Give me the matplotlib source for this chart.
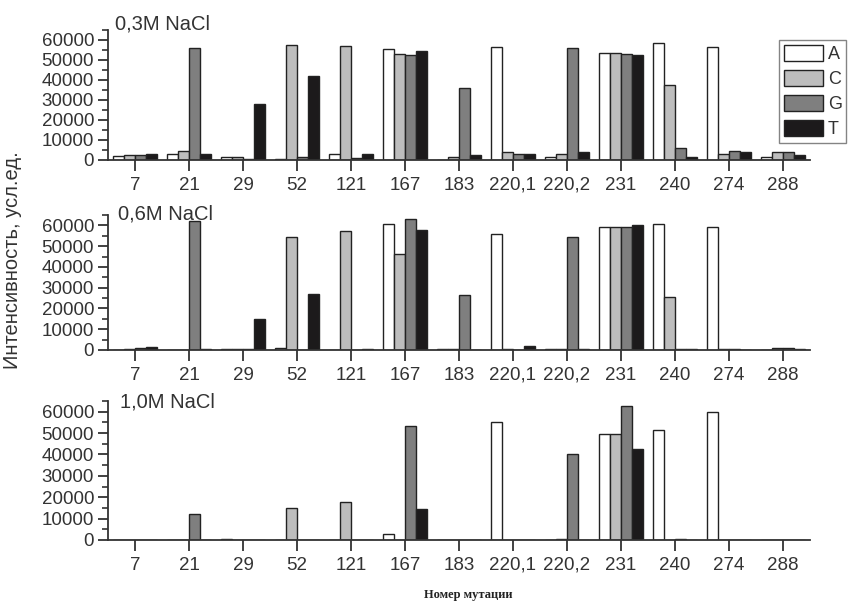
import matplotlib
matplotlib.use("Agg")
import matplotlib.pyplot as plt
import numpy as np
from matplotlib.ticker import MultipleLocator

plt.rcParams['font.family'] = ['Liberation Sans', 'DejaVu Sans']

categories = ['7', '21', '29', '52', '121', '167', '183', '220,1', '220,2', '231', '240', '274', '288']
series_names = ['A', 'C', 'G', 'T']
panel_titles = ['0,3M NaCl', '0,6M NaCl', '1,0M NaCl']

# 0.3M NaCl
p1_A = [2000, 3000, 1300, 500, 2800, 55500, 200, 56700, 1300, 53300, 58300, 56300, 1300]
p1_C = [2700, 4500, 1600, 57500, 56800, 53000, 1300, 4200, 2800, 53300, 37400, 3000, 3800]
p1_G = [2700, 55800, 400, 1300, 800, 52600, 36000, 3000, 55800, 53000, 6000, 4500, 3800]
p1_T = [3000, 3000, 28000, 41900, 2800, 54500, 2300, 3000, 3800, 52300, 1700, 4000, 2700]

# 0.6M NaCl
p2_A = [200, 200, 300, 1100, 200, 60600, 300, 55900, 700, 59000, 60600, 59000, 200]
p2_C = [600, 200, 300, 54400, 57400, 46000, 400, 300, 700, 59000, 25300, 300, 800]
p2_G = [1000, 62000, 300, 200, 200, 63100, 26400, 200, 54400, 59000, 300, 300, 800]
p2_T = [1300, 300, 14700, 26900, 300, 57700, 200, 1700, 300, 60300, 300, 200, 600]

# 1.0M NaCl
p3_A = [0, 0, 300, 0, 0, 3000, 0, 55300, 0, 49500, 51300, 60000, 0]
p3_C = [0, 0, 0, 15000, 17700, 0, 0, 0, 300, 49500, 0, 0, 0]
p3_G = [0, 12000, 0, 0, 0, 53500, 0, 0, 40300, 62600, 300, 0, 0]
p3_T = [0, 0, 0, 0, 0, 14700, 0, 0, 0, 42500, 0, 0, 0]

panels = [
    [p1_A, p1_C, p1_G, p1_T],
    [p2_A, p2_C, p2_G, p2_T],
    [p3_A, p3_C, p3_G, p3_T],
]

colors = ['#ffffff', '#bdbdbd', '#7f7f7f', '#1c1a1b']

W, H = 849, 603
fig = plt.figure(figsize=(W / 100, H / 100), dpi=100)

# axes pixel boxes: (left, top, right, bottom)
boxes = [(108, 30, 810, 160), (108, 215, 810, 350), (108, 401, 810, 540)]
title_pos = [(115, 30), (118, 220), (120, 407)]

x = np.arange(len(categories))
bw = 0.2
handles = None
for i, (box, data) in enumerate(zip(boxes, panels)):
    l, t, r, b = box
    ax = fig.add_axes([l / W, 1 - b / H, (r - l) / W, (b - t) / H])
    hs = []
    for k, vals in enumerate(data):
        h = ax.bar(x + (k - 1.5) * bw, vals, width=bw, color=colors[k],
                   edgecolor='#222222', linewidth=1.0, label=series_names[k])
        hs.append(h)
    if handles is None:
        handles = hs
    ax.set_xlim(-0.5, len(categories) - 0.5)
    ax.set_ylim(0, 65000)
    ax.set_yticks(np.arange(0, 60001, 10000))
    ax.yaxis.set_minor_locator(MultipleLocator(5000))
    ax.set_xticks(x)
    ax.set_xticklabels(categories)
    for s in ['top', 'right']:
        ax.spines[s].set_visible(False)
    for s in ['left', 'bottom']:
        ax.spines[s].set_linewidth(1.3)
        ax.spines[s].set_color('#333333')
    ax.tick_params(axis='y', which='major', length=7, width=1.3, pad=3,
                   labelsize=13.5, colors='#333333')
    ax.tick_params(axis='y', which='minor', length=4, width=1.2, colors='#333333')
    ax.tick_params(axis='x', which='major', length=8, width=1.3, pad=4,
                   labelsize=13.5, colors='#333333')
    fig.text(title_pos[i][0] / W, 1 - title_pos[i][1] / H, panel_titles[i],
             fontsize=14.5, color='#333333', va='baseline', ha='left')

leg = fig.legend(handles, series_names, loc='upper left',
                 bbox_to_anchor=(779 / W, 1 - 40 / H), bbox_transform=fig.transFigure,
                 fontsize=13, frameon=True, fancybox=False, handlelength=2.2,
                 handleheight=1.0, handletextpad=0.25, labelspacing=0.38,
                 borderpad=0.25, borderaxespad=0)
leg.get_frame().set_edgecolor('#666666')
leg.get_frame().set_linewidth(1.0)
for txt in leg.get_texts():
    txt.set_color('#333333')

fig.text(13 / W, 1 - 260 / H, 'Интенсивность, усл.ед.', rotation=90,
         fontsize=14.5, color='#333333', ha='center', va='center')
fig.text(468 / W, 1 - 595 / H, 'Номер мутации', fontsize=9, fontweight='bold',
         family=['Liberation Serif', 'DejaVu Serif'], color='#222222',
         ha='center', va='center')

fig.savefig('out.png', dpi=100)
